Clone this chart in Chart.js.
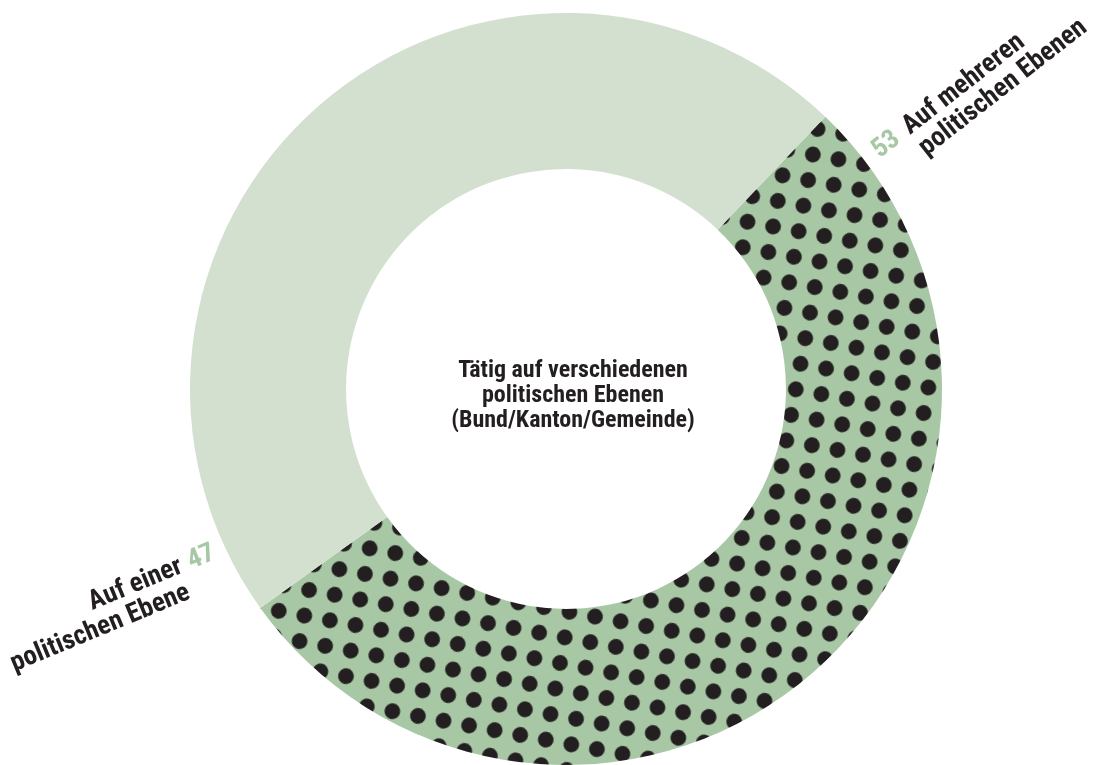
<!DOCTYPE html>
<html>
<head>
<meta charset="utf-8">
<script src="https://cdn.jsdelivr.net/npm/chart.js@4"></script>
<style>
  html, body { margin: 0; padding: 0; background: #fff; }
  #chart { display: block; }
</style>
</head>
<body>
<canvas id="chart" width="1095" height="765"></canvas>
<script>
// data
var categories = ['Auf mehreren politischen Ebenen', 'Auf einer politischen Ebene'];
var values = [53, 47];
var centerLines = ['Tätig auf verschiedenen', 'politischen Ebenen', '(Bund/Kanton/Gemeinde)'];

var FONT = '"Roboto Condensed", "Liberation Sans Narrow", "Roboto", sans-serif';
var lightGreen = '#d3e0cf';
var midGreen = '#a8c8a5';
var dotColor = '#231f20';

// dotted fill: green tile with one black dot, rotated grid
function makeDots(ctx) {
    var tile = document.createElement('canvas');
    tile.width = 26;
    tile.height = 26;
    var t = tile.getContext('2d');
    t.fillStyle = midGreen;
    t.fillRect(0, 0, 26, 26);
    t.fillStyle = dotColor;
    t.beginPath();
    t.arc(13, 13, 7.9, 0, Math.PI * 2);
    t.fill();
    var p = ctx.createPattern(tile, 'repeat');
    p.setTransform(new DOMMatrix().translate(810, 312.7).rotate(10.5).translate(-13, -13));
    return p;
}

// labels beside the ring and the text in the hole
var textPlugin = {
    id: 'texts',
    afterDraw: function(chart) {
        var ctx = chart.ctx;
        ctx.save();
        ctx.textBaseline = 'alphabetic';

        // center text
        ctx.fillStyle = '#231f20';
        ctx.font = 'bold 24px ' + FONT;
        ctx.textAlign = 'center';
        centerLines.forEach(function(line, i) {
            ctx.fillText(line, 573, 377 + i * 25);
        });

        // upper right label
        ctx.save();
        ctx.translate(910, 135);
        ctx.rotate(-38 * Math.PI / 180);
        ctx.font = 'bold 27px ' + FONT;
        ctx.textAlign = 'right';
        ctx.fillStyle = midGreen;
        ctx.fillText(String(values[0]), -11, 0);
        ctx.textAlign = 'left';
        ctx.fillStyle = '#231f20';
        ctx.fillText('Auf mehreren', 0, 0);
        ctx.fillText('politischen Ebenen', 0, 27);
        ctx.restore();

        // lower left label
        ctx.save();
        ctx.translate(184, 572);
        ctx.rotate(-22.5 * Math.PI / 180);
        ctx.font = 'bold 27px ' + FONT;
        ctx.textAlign = 'right';
        ctx.fillStyle = '#231f20';
        ctx.fillText('Auf einer', 0, 0);
        ctx.fillText('politischen Ebene', -3, 27);
        ctx.textAlign = 'left';
        ctx.fillStyle = midGreen;
        ctx.fillText(String(values[1]), 8, 0);
        ctx.restore();

        ctx.restore();
    }
};

var ctx = document.getElementById('chart').getContext('2d');
var chart = new Chart(ctx, {
    type: 'doughnut',
    data: {
        labels: categories,
        datasets: [{
            data: values,
            backgroundColor: [makeDots(ctx), lightGreen],
            borderWidth: 0,
            hoverOffset: 0
        }]
    },
    options: {
        responsive: false,
        animation: false,
        rotation: 43.6,
        cutout: '58.5%',
        layout: { padding: { left: 190, right: 153, top: 13, bottom: 0 } },
        plugins: {
            legend: { display: false },
            tooltip: { enabled: false }
        },
        events: []
    },
    plugins: [textPlugin]
});
</script>
</body>
</html>
